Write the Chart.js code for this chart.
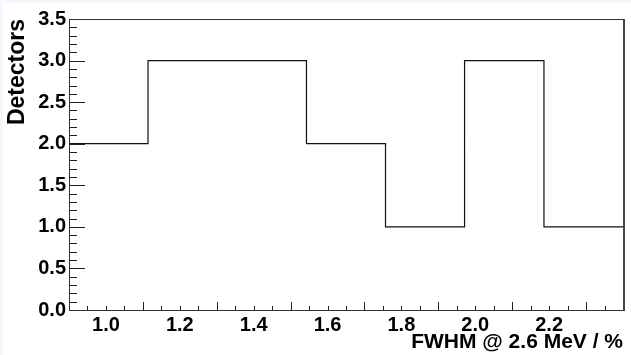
<!DOCTYPE html>
<html>
<head>
<meta charset="utf-8">
<script src="https://cdn.jsdelivr.net/npm/chart.js@4/dist/chart.umd.min.js"></script>
<style>
  html, body { margin: 0; padding: 0; background: #f4f7fb; }
  body { width: 631px; height: 355px; position: relative; overflow: hidden; }
  #c { position: absolute; left: 3px; top: 3px; background: #fff; }
</style>
</head>
<body>
<canvas id="c" width="628" height="352"></canvas>
<script>
/* FWHM histogram, ROOT look */

// bin edges along x (7 bins) and counts per bin
const binEdges = [0.9, 1.114, 1.329, 1.543, 1.757, 1.971, 2.186, 2.4];
const counts   = [2, 3, 3, 2, 1, 3, 1];

// tick labels
const xTickLabels = [1.0, 1.2, 1.4, 1.6, 1.8, 2.0, 2.2];
const yTickLabels = [0.0, 0.5, 1.0, 1.5, 2.0, 2.5, 3.0, 3.5];
// long ticks on x sit on the odd tenths
const xLongTicks = [1.1, 1.3, 1.5, 1.7, 1.9, 2.1, 2.3];

const X_MIN = 0.9, X_MAX = 2.4, Y_MIN = 0, Y_MAX = 3.5;
const FONT = 'Liberation Sans, Arial, sans-serif';

// step points: one per left edge, plus the closing right edge
const stepPoints = counts.map((c, i) => ({ x: binEdges[i], y: c }));
stepPoints.push({ x: binEdges[binEdges.length - 1], y: counts[counts.length - 1] });

// frame + inner tick marks, drawn from the scales
const rootFrame = {
  id: 'rootFrame',
  afterDraw(chart) {
    const { ctx, chartArea: a, scales: { x, y } } = chart;
    ctx.save();
    ctx.strokeStyle = '#222';
    ctx.lineWidth = 1;

    ctx.beginPath();
    // y ticks: major every 0.5, minor every 0.1
    for (let k = 0; k <= 35; k++) {
      const v = k / 10;
      const py = Math.round(y.getPixelForValue(v)) + 0.5;
      const len = (k % 5 === 0) ? 16 : 8;
      ctx.moveTo(a.left, py);
      ctx.lineTo(a.left + len, py);
    }
    // x ticks: short every 0.05, long on the odd tenths
    for (let k = 19; k <= 47; k++) {
      const v = k / 20;
      const px = Math.round(x.getPixelForValue(v)) + 0.5;
      const isLong = xLongTicks.some(t => Math.abs(t - v) < 1e-6);
      ctx.moveTo(px, a.bottom);
      ctx.lineTo(px, a.bottom - (isLong ? 8 : 4));
    }
    ctx.stroke();

    // frame
    ctx.strokeStyle = '#333';
    ctx.strokeRect(Math.round(a.left) + 0.5, Math.round(a.top) + 0.5,
                   Math.round(a.right - a.left), Math.round(a.bottom - a.top));
    ctx.lineWidth = 2;
    ctx.strokeStyle = '#444';
    ctx.beginPath();
    ctx.moveTo(Math.round(a.right) + 1, a.top);
    ctx.lineTo(Math.round(a.right) + 1, a.bottom + 1);
    ctx.stroke();
    ctx.restore();
  }
};

new Chart(document.getElementById('c'), {
  type: 'line',
  data: {
    datasets: [{
      data: stepPoints,
      stepped: 'before',
      borderColor: '#111',
      borderWidth: 1.2,
      pointRadius: 0,
      fill: false
    }]
  },
  options: {
    responsive: false,
    animation: false,
    layout: { padding: { top: 16, right: 8, left: 0, bottom: 0 } },
    plugins: { legend: { display: false }, tooltip: { enabled: false } },
    scales: {
      x: {
        type: 'linear', min: X_MIN, max: X_MAX,
        afterFit: s => { s.height = 45; },
        afterBuildTicks: s => { s.ticks = xTickLabels.map(v => ({ value: v })); },
        grid: { display: false, drawTicks: false, tickLength: 0 },
        border: { display: false },
        ticks: {
          autoSkip: false, maxRotation: 0, padding: 3, color: '#000',
          font: { family: FONT, size: 20, weight: 'bold' },
          callback: v => Number(v).toFixed(1)
        },
        title: {
          display: true, text: 'FWHM @ 2.6 MeV / %', align: 'end', color: '#000',
          font: { family: FONT, size: 21, weight: 'bold' }, padding: { top: 0, bottom: 0 }
        }
      },
      y: {
        type: 'linear', min: Y_MIN, max: Y_MAX,
        afterFit: s => { s.width = 66; },
        afterBuildTicks: s => { s.ticks = yTickLabels.map(v => ({ value: v })); },
        grid: { display: false, drawTicks: false, tickLength: 0 },
        border: { display: false },
        ticks: {
          autoSkip: false, padding: 3, color: '#000',
          font: { family: FONT, size: 20, weight: 'bold' },
          callback: v => Number(v).toFixed(1)
        },
        title: {
          display: true, text: 'Detectors', align: 'end', color: '#000',
          font: { family: FONT, size: 23, weight: 'bold' }, padding: { top: 1, bottom: 0 }
        }
      }
    }
  },
  plugins: [rootFrame]
});
</script>
</body>
</html>
